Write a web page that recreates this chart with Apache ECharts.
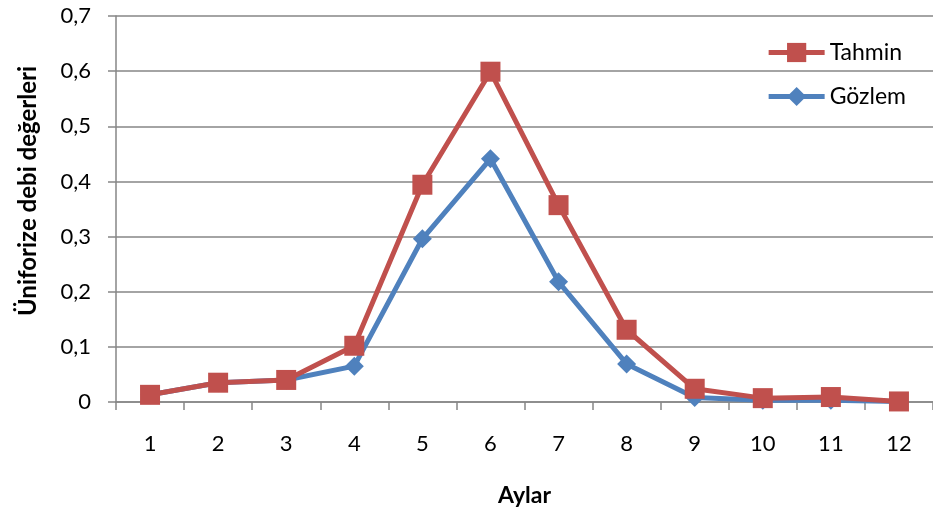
<!DOCTYPE html>
<html>
<head>
<meta charset="utf-8">
<script src="https://cdn.jsdelivr.net/npm/echarts@6/dist/echarts.min.js"></script>
<style>
html,body{margin:0;padding:0;background:#fff;}
#chart{width:933px;height:519px;}
</style>
</head>
<body>
<div id="chart"></div>
<script>
// Monthly normalised discharge: forecast vs observed
const months = ['1','2','3','4','5','6','7','8','9','10','11','12'];
const tahmin = [0.013, 0.035, 0.040, 0.102, 0.394, 0.599, 0.357, 0.131, 0.024, 0.007, 0.009, 0.001];
const gozlem = [0.013, 0.035, 0.040, 0.065, 0.296, 0.441, 0.218, 0.069, 0.008, 0.003, 0.003, 0.001];
const yTicks = ['0','0,1','0,2','0,3','0,4','0,5','0,6','0,7'];

const FONT = 'Lato, "Open Sans", sans-serif';
const AXIS_GRAY = '#868686';

const chart = echarts.init(document.getElementById('chart'));
chart.setOption({
  animation: false,
  textStyle: { fontFamily: FONT },
  grid: { left: 116, right: 0, top: 16, bottom: 117 },
  legend: {
    orient: 'vertical',
    right: 22,
    top: 36,
    itemGap: 21,
    itemWidth: 56,
    itemHeight: 24,
    lineStyle: { width: 5 },
    textStyle: { fontSize: 23, color: '#000', fontFamily: FONT },
    data: ['Tahmin', 'Gözlem']
  },
  xAxis: {
    type: 'category',
    data: months,
    boundaryGap: true,
    name: 'Aylar',
    nameLocation: 'middle',
    nameGap: 82,
    nameTextStyle: { fontSize: 23, fontWeight: 'bold', color: '#000', fontFamily: FONT },
    axisLine: { lineStyle: { color: AXIS_GRAY, width: 1.5 } },
    axisTick: { show: true, alignWithLabel: false, length: 8, lineStyle: { color: AXIS_GRAY, width: 1.5 } },
    axisLabel: { fontSize: 22, color: '#000', margin: 31, fontFamily: FONT },
    splitLine: { show: false }
  },
  yAxis: {
    type: 'value',
    min: 0,
    max: 0.7,
    interval: 0.1,
    name: 'Üniforize debi değerleri',
    nameLocation: 'middle',
    nameGap: 76,
    nameRotate: 90,
    nameTextStyle: {
      fontSize: 24, fontWeight: 'bold', color: '#000', fontFamily: FONT,
      padding: [0, 0, 0, 36]
    },
    axisLine: { show: true, lineStyle: { color: AXIS_GRAY, width: 1.5 } },
    axisTick: { show: true, length: 8, lineStyle: { color: AXIS_GRAY, width: 1.5 } },
    axisLabel: {
      fontSize: 22, color: '#000', margin: 25, fontFamily: FONT,
      formatter: function (v) { return yTicks[Math.round(v * 10)]; }
    },
    splitLine: { show: true, lineStyle: { color: AXIS_GRAY, width: 1.5 } }
  },
  series: [
    {
      name: 'Gözlem',
      type: 'line',
      data: gozlem,
      symbol: 'diamond',
      symbolSize: 19,
      z: 2,
      itemStyle: { color: '#4F81BD' },
      lineStyle: { color: '#4F81BD', width: 5 }
    },
    {
      name: 'Tahmin',
      type: 'line',
      data: tahmin,
      symbol: 'rect',
      symbolSize: 20,
      z: 3,
      itemStyle: { color: '#C0504D' },
      lineStyle: { color: '#C0504D', width: 5 }
    }
  ]
});
</script>
</body>
</html>
